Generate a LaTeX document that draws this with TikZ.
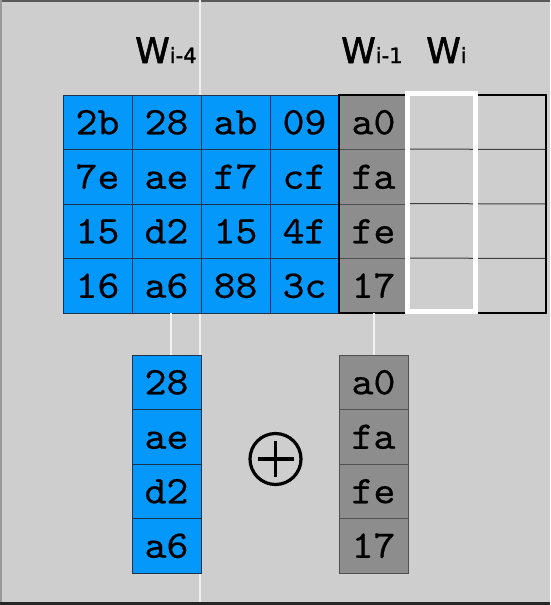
\documentclass[tikz,border=0pt]{standalone}
\usepackage{fontspec}
\newfontfamily\wfont[FakeBold=1.6]{DejaVu Sans}
\newfontfamily\cellfont[FakeBold=0.5,FakeStretch=1.07]{lmmono10-regular.otf}

\definecolor{bgray}{RGB}{206,206,206}
\definecolor{cellblue}{RGB}{3,152,250}
\definecolor{cellgray}{RGB}{141,141,141}
\definecolor{blueedge}{RGB}{30,50,75}
\definecolor{grayedge}{RGB}{80,80,80}

\tikzset{
  cell/.style={draw, line width=0.9pt, minimum width=69pt, minimum height=54.5pt,
    inner sep=0pt, text height=24pt, text depth=-2pt,
    font=\cellfont\fontsize{39}{39}\selectfont},
  bluecell/.style={cell, fill=cellblue, draw=blueedge},
  graycell/.style={cell, fill=cellgray, draw=grayedge},
  wlabel/.style={anchor=base west, inner sep=0pt, font=\wfont\fontsize{35}{35}\selectfont},
  link/.style={draw=white!95!black, line width=2pt},
  guide/.style={draw=white!94!black, line width=2pt},
  rowline/.style={draw=black!75, line width=1pt},
}
\newcommand{\subw}[1]{{\fontsize{21}{21}\selectfont #1}}

\begin{document}
\begin{tikzpicture}[x=1pt,y=-1pt]
\fill[bgray] (0,0) rectangle (550,605);
\useasboundingbox (0,0) rectangle (550,605);
% edges of the frame
\draw[black!65, line width=2pt] (0,1) -- (550,1);
\draw[black!40, line width=2pt] (1,0) -- (1,605);
\draw[black!85, line width=3pt] (0,603.5) -- (550,603.5);

% vertical guide
\coordinate (g-top) at (200,0);
\coordinate (g-bot) at (200,602);
\draw[guide] (g-top) -- (g-bot);

% state words
\foreach \i/\col in {0/{2b,7e,15,16},1/{28,ae,d2,a6},2/{ab,f7,15,88},3/{09,cf,4f,3c}} {
  \foreach \v [count=\j from 0] in \col
    \node[bluecell] (c-\i-\j) at ({97.5+69*\i},{122.25+54.5*\j}) {\v};
}
\foreach \v [count=\j from 0] in {a0,fa,fe,17}
  \node[graycell] (c-4-\j) at ({97.5+69*4},{122.25+54.5*\j}) {\v};

% empty words
\foreach \j in {1,2,3}
  \draw[rowline] (c-4-\j.north east) -- (546,{95+54.5*\j});
\draw[black, line width=2pt] (c-4-0.north west) rectangle (546,313);
% W_i
\draw[white, line width=5pt] (407.5,93.5) rectangle (475,311.8);

\node[wlabel] (w-i4) at (135,63) {W\subw{i-4}};
\node[wlabel] (w-i1) at (341,63) {W\subw{i-1}};
\node[wlabel] (w-i) at (426,63) {W\subw{i}};

% copied columns
\foreach \v [count=\j from 0] in {28,ae,d2,a6}
  \node[bluecell] (b-\j) at (166.5,{382.25+54.5*\j}) {\v};
\foreach \v [count=\j from 0] in {a0,fa,fe,17}
  \node[graycell] (g-\j) at (373.5,{382.25+54.5*\j}) {\v};

\draw[link] ([xshift=4.5pt]c-1-3.south) -- ([xshift=4.5pt]b-0.north);
\draw[link] (c-4-3.south) -- (g-0.north);

% xor
\node[circle, draw, line width=3.2pt, minimum size=51pt, inner sep=0pt] (xor) at (275.5,459) {};
\draw[line width=3.2pt] ([xshift=-18pt]xor.center) -- ([xshift=18pt]xor.center)
  ([yshift=-18pt]xor.center) -- ([yshift=18pt]xor.center);

\end{tikzpicture}
\end{document}
